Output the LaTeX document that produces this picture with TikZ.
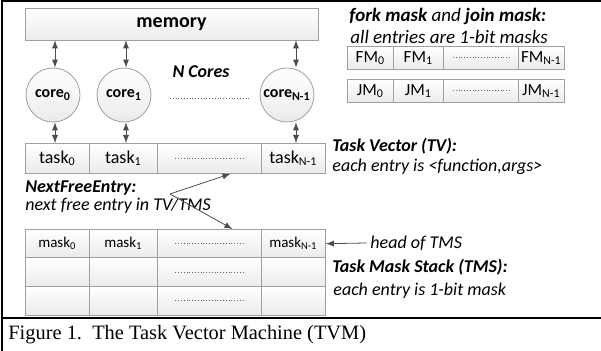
\documentclass[tikz,border=0pt]{standalone}
\usepackage{fontspec}
\setmainfont{Carlito}
\newfontfamily\capfont{Liberation Serif}
\newcommand{\ix}[1]{\textsubscript{#1}}

\begin{document}
\begin{tikzpicture}[x=0.5pt,y=-0.5pt,
		cell/.style={draw=gray!75,top color=white,bottom color=gray!16,inner sep=0pt,anchor=north west},
		core/.style={circle,draw=gray!75,top color=white,bottom color=gray!16,minimum size=27pt,inner sep=0pt,font=\fontsize{8}{9}\selectfont\bfseries},
		link/.style={latex-latex,black!70},
		note/.style={anchor=west,inner sep=0pt,font=\fontsize{9}{11}\selectfont\itshape},
		dotline/.style={densely dotted,black!60}]
		\useasboundingbox (0,0) rectangle (601,351);
		% frame and caption
		\draw[line width=1pt] (2,351) -- (2,1) -- (601,1);
		\draw[line width=1pt] (2,318) -- (601,318);
		\node[anchor=west,inner sep=0pt,font=\capfont\fontsize{10.2}{12}\selectfont] (cap) at (8,335) {Figure 1.\ \ The Task Vector Machine (TVM)};
		% memory and cores
		\node[cell,anchor=center,minimum width=146.5pt,minimum height=16pt,font=\fontsize{10}{12}\selectfont\bfseries] (mem) at (171.5,24) {memory};
		\node[core] (core0) at (53,95) {core\ix{0}};
		\node[core] (core1) at (124,95) {core\ix{1}};
		\node[core] (coren) at (287,95) {core\ix{N-1}};
		\node[font=\fontsize{9}{11}\selectfont\bfseries\itshape] (ncores) at (201,72) {N Cores};
		\draw[dotline] (170,98) -- (250,98);
		% task vector
		\foreach \n/\x/\w/\t in {tv0/25/64/task\ix{0},tv1/89/68/task\ix{1},tvd/157/104/{},tvn/261/64/task\ix{N-1}}
			\node[cell,minimum width=\w*0.5pt,minimum height=15pt,font=\fontsize{9}{10}\selectfont] (\n) at (\x,143) {\t};
		\draw[dotline] ([xshift=-17pt]tvd.center) -- ([xshift=18pt]tvd.center);
		\foreach \c/\t/\s in {core0/tv0/1pt,core1/tv1/1pt,coren/tvn/4.5pt}{
			\draw[link] ([xshift=\s]\c.north |- mem.south) -- ([xshift=\s]\c.north);
			\draw[link] ([xshift=\s]\c.south) -- ([xshift=\s]\c.south |- \t.north);
		}
		\node[note,font=\fontsize{9}{11}\selectfont\bfseries\itshape] (tvtitle) at (332,146) {Task Vector (TV):};
		\node[note] (tvtext) at (332,167) {each entry is <function,args>};
		% task mask stack
		\foreach \n/\x/\w/\t in {mk0/25/64/mask\ix{0},mk1/89/68/mask\ix{1},mkd/157/104/{},mkn/261/64/mask\ix{N-1}}
			\node[cell,minimum width=\w*0.5pt,minimum height=14.3pt,font=\fontsize{7.5}{9}\selectfont] (\n) at (\x,229) {\t};
		\foreach \r/\y in {2/257.5,3/286}
			\foreach \n/\x/\w in {a/25/64,b/89/68,d/157/104,c/261/64}
				\node[cell,minimum width=\w*0.5pt,minimum height=14.3pt] (st\r\n) at (\x,\y) {};
		\foreach \n in {mkd,st2d,st3d}
			\draw[dotline] ([xshift=-17pt]\n.center) -- ([xshift=18pt]\n.center);
		\node[note] (head) at (370,243) {head of TMS};
		\draw[-latex,black!70] ([xshift=-1.5pt]head.west) -- (mkn.east);
		\node[note,font=\fontsize{9}{11}\selectfont\bfseries\itshape] (tmstitle) at (332,267) {Task Mask Stack (TMS):};
		\node[note] (tmstext) at (333,291) {each entry is 1-bit mask};
		% next free entry
		\node[note,font=\fontsize{9}{11}\selectfont\bfseries\itshape] (nfetitle) at (25,188) {NextFreeEntry:};
		\node[note] (nfetext) at (25,206) {next free entry in TV/TMS};
		\coordinate (apex) at (170,194);
		\draw[-latex,black!70] (apex) -- ([xshift=10.5pt]tvd.south);
		\draw[-latex,black!70] (apex) -- ([xshift=11.5pt]mkd.north);
		% fork and join masks
		\node[note,font=\fontsize{9.5}{11}\selectfont\itshape] (fjtitle) at (349,16) {\textbf{fork mask} and \textbf{join mask:}};
		\node[note,font=\fontsize{9.5}{11}\selectfont\itshape] (fjtext) at (350,37) {all entries are 1-bit masks};
		\foreach \n/\x/\w/\f/\j in {0/347/46/FM\ix{0}/JM\ix{0},1/393/50/FM\ix{1}/JM\ix{1},d/443/75/{}/{},n/518/46/FM\ix{N-1}/JM\ix{N-1}}{
			\node[cell,minimum width=\w*0.5pt,minimum height=11.5pt,font=\fontsize{8.5}{9}\selectfont] (fm\n) at (\x,46) {\f};
			\node[cell,minimum width=\w*0.5pt,minimum height=11.5pt,font=\fontsize{8.5}{9}\selectfont] (jm\n) at (\x,79) {\j};
		}
		\foreach \n in {fmd,jmd}
			\draw[dotline] ([xshift=-14pt]\n.center) -- ([xshift=15pt]\n.center);
	\end{tikzpicture}
\end{document}
